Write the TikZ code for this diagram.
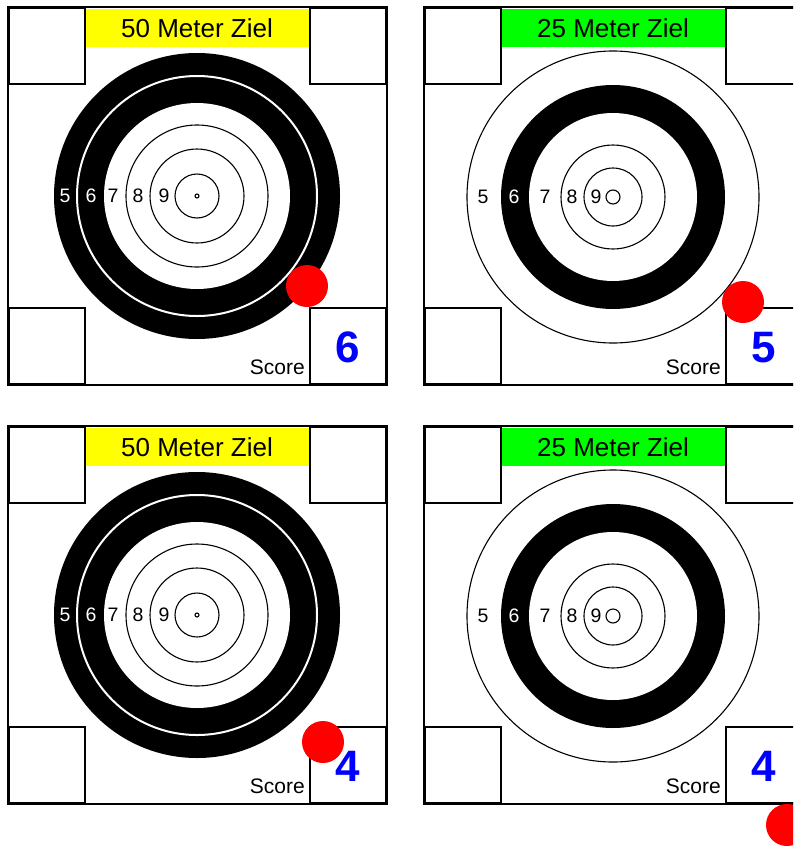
\documentclass[tikz,border=0pt]{standalone}
\usepackage{fontspec}
\setmainfont{Liberation Sans}
\usetikzlibrary{positioning}
\definecolor{Label50}{HTML}{FFFF00}
\definecolor{Label25}{HTML}{00FF00}
\definecolor{ScoreBlue}{HTML}{0000FF}
\definecolor{Hit}{HTML}{FF0000}

% rings of the 50 m target, #1 = sheet name
\newcommand{\fiftyrings}[1]{%
  \coordinate (#1-c) at (189,189);
  \fill (#1-c) circle (143);
  \draw[white,line width=2pt] (#1-c) circle (120);
  \fill[white] (#1-c) circle (93);
  \foreach \r in {71,47,22,2} \draw[ring] (#1-c) circle (\r);
  \foreach \n/\dx/\col in {5/132/white,6/106/white,7/84/black,8/59/black,9/33/black}
    \node[ringnum,text=\col,xshift=-\dx pt] (#1-n\n) at (#1-c) {\n};
}
% rings of the 25 m target
\newcommand{\twentyfiverings}[1]{%
  \coordinate (#1-c) at (189,190);
  \draw[ring] (#1-c) circle (146);
  \fill (#1-c) circle (112);
  \fill[white] (#1-c) circle (84);
  \foreach \r in {52,29,7} \draw[ring] (#1-c) circle (\r);
  \foreach \n/\dx/\col in {5/130/black,6/99/white,7/68/black,8/41/black,9/17/black}
    \node[ringnum,text=\col,xshift=-\dx pt] (#1-n\n) at (#1-c) {\n};
}
% one sheet: name, origin, title, title colour, rings, score, hit
\newcommand{\sheet}[7]{%
  \begin{scope}[shift={(#2)}]
    \draw[frame] (0,0) rectangle (379,378);
    \node[corner,anchor=north west] (#1-tl) at (0,0) {};
    \node[corner,anchor=north east] (#1-tr) at (379,0) {};
    \node[corner,anchor=south west] (#1-bl) at (0,378) {};
    \node[corner,anchor=south east] (#1-br) at (379,378) {};
    \node[title,fill=#4] (#1-title) at (189,21) {#3};
    #5{#1}
    \node[scoreword,anchor=base east] (#1-word) at (297,367) {Score};
    \node[hit] (#1-hit) at (#7) {};
    \node[scorenum,anchor=base] (#1-num) at (340,355) {#6};
  \end{scope}%
}

\begin{document}
\begin{tikzpicture}[x=1pt,y=-1pt,
  frame/.style={draw=black,line width=1.8pt},
  corner/.style={draw=black,line width=1.8pt,fill=white,inner sep=0pt,minimum width=76pt,minimum height=76pt},
  title/.style={inner sep=0pt,minimum width=223pt,minimum height=38pt,font=\fontsize{26}{30}\selectfont},
  ring/.style={draw=black,line width=1.1pt},
  ringnum/.style={inner sep=0pt,font=\fontsize{19.5}{22}\selectfont},
  scoreword/.style={inner sep=0pt,font=\fontsize{21}{24}\selectfont},
  scorenum/.style={inner sep=0pt,text=ScoreBlue,font=\fontsize{44}{46}\selectfont\bfseries},
  hit/.style={circle,fill=Hit,inner sep=0pt,minimum size=42pt}]
\clip (0,0) rectangle (793,846);
\useasboundingbox (0,0) rectangle (793,846);
\sheet{a}{8,7}{50 Meter Ziel}{Label50}{\fiftyrings}{6}{299,279}
\sheet{b}{424,7}{25 Meter Ziel}{Label25}{\twentyfiverings}{5}{319,295}
\sheet{c}{8,426}{50 Meter Ziel}{Label50}{\fiftyrings}{4}{315,316}
\sheet{d}{424,426}{25 Meter Ziel}{Label25}{\twentyfiverings}{4}{363,399}
\end{tikzpicture}
\end{document}
